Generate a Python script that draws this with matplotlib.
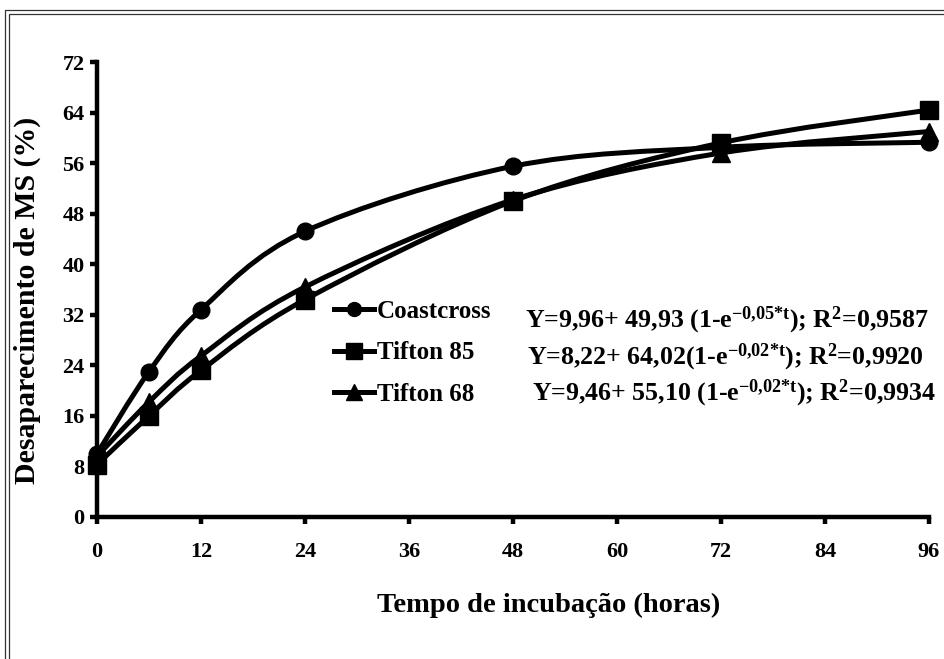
import matplotlib
matplotlib.use("Agg")
import matplotlib.pyplot as plt
from matplotlib.path import Path
from matplotlib.patches import PathPatch, Rectangle
from matplotlib.lines import Line2D

plt.rcParams['font.family'] = ['Liberation Serif', 'DejaVu Serif']
plt.rcParams['font.weight'] = 'bold'
plt.rcParams['axes.labelweight'] = 'bold'
plt.rcParams['mathtext.fontset'] = 'custom'
plt.rcParams['mathtext.rm'] = 'Liberation Serif:bold'
plt.rcParams['mathtext.bf'] = 'Liberation Serif:bold'
plt.rcParams['mathtext.it'] = 'Liberation Serif:bold'

# Data
tempo = [0, 6, 12, 24, 48, 72, 96]
coastcross = [10.0, 23.0, 32.8, 45.2, 55.5, 58.5, 59.3]
tifton85 = [8.3, 16.0, 23.2, 34.4, 50.0, 59.2, 64.4]
tifton68 = [9.6, 18.2, 25.5, 36.4, 50.2, 57.6, 61.0]

nomes = ['Coastcross', 'Tifton 85', 'Tifton 68']
marcadores = ['o', 's', '^']
tamanhos = [12, 13, 13]
equacoes = [
    r'Y=9,96+ 49,93 (1-e$^{\mathrm{-0{,}05{*}t}}$); R$^{\mathrm{2}}$=0,9587',
    r'Y=8,22+ 64,02(1-e$^{\mathrm{-0{,}02{*}t}}$); R$^{\mathrm{2}}$=0,9920',
    r'Y=9,46+ 55,10 (1-e$^{\mathrm{-0{,}02{*}t}}$); R$^{\mathrm{2}}$=0,9934',
]
eq_pos = [(0.514, 0.432), (0.517, 0.352), (0.523, 0.271)]

yticks = list(range(0, 73, 8))
xticks = list(range(0, 97, 12))


def curva_suave(x, y):
    # smooth line like Excel (Catmull-Rom as cubic Bezier)
    verts = [(x[0], y[0])]
    codes = [Path.MOVETO]
    n = len(x)
    for i in range(n - 1):
        x0, y0 = (x[i - 1], y[i - 1]) if i > 0 else (x[i], y[i])
        x3, y3 = (x[i + 2], y[i + 2]) if i + 2 < n else (x[i + 1], y[i + 1])
        c1 = (x[i] + (x[i + 1] - x0) / 6, y[i] + (y[i + 1] - y0) / 6)
        c2 = (x[i + 1] - (x3 - x[i]) / 6, y[i + 1] - (y3 - y[i]) / 6)
        verts += [c1, c2, (x[i + 1], y[i + 1])]
        codes += [Path.CURVE4] * 3
    return Path(verts, codes)


fig = plt.figure(figsize=(9.44, 6.59), dpi=100)
ax = fig.add_axes([97 / 944, 1 - 517 / 659, 832 / 944, 455 / 659])

# double frame around the figure
for d in [0, 4]:
    fig.patches.append(Rectangle(((5 + d) / 944, -0.05), 1.1, 1 - (10 + d) / 659 + 0.05,
                                 transform=fig.transFigure, fill=False,
                                 edgecolor='#333333', linewidth=0.9))

handles = []
for serie, nome, m, ms in zip([coastcross, tifton85, tifton68], nomes, marcadores, tamanhos):
    ax.add_patch(PathPatch(curva_suave(tempo, serie), fill=False, edgecolor='black',
                           linewidth=3.6, capstyle='round', joinstyle='round'))
    ax.plot(tempo, serie, linestyle='none', marker=m, markersize=ms, color='black',
            clip_on=False, zorder=3)
    handles.append(Line2D([], [], color='black', linewidth=3.6, marker=m, markersize=ms - 2))

ax.set_xlim(0, 96)
ax.set_ylim(0, 72)
ax.set_xticks(xticks)
ax.set_yticks(yticks)
for s in ['top', 'right']:
    ax.spines[s].set_visible(False)
for s in ['left', 'bottom']:
    ax.spines[s].set_linewidth(3.2)
ax.tick_params(axis='both', direction='out', length=5, width=3.2, labelsize=16)
ax.tick_params(axis='x', pad=13)
ax.tick_params(axis='y', pad=4)

ax.set_xlabel('Tempo de incubação (horas)', fontsize=20.5)
ax.xaxis.set_label_coords(0.543, -0.167)
ax.set_ylabel('Desaparecimento de MS (%)', fontsize=21.5)
ax.yaxis.set_label_coords(-0.067, 0.477)

leg = ax.legend(handles, nomes, loc='upper left', bbox_to_anchor=(0.27, 0.505),
                frameon=False, fontsize=18, handlelength=1.6, handletextpad=0.1,
                labelspacing=0.75, borderpad=0)

for eq, (ex, ey) in zip(equacoes, eq_pos):
    ax.text(ex, ey, eq, transform=ax.transAxes, fontsize=18.6, va='center', ha='left')

fig.savefig('out.png', dpi=100)
